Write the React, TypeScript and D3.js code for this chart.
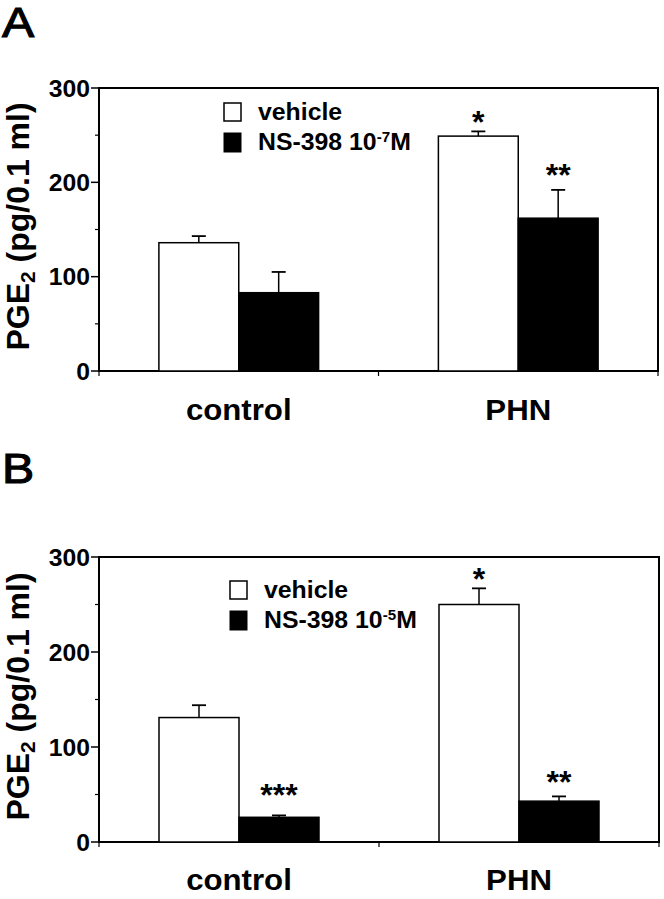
import React from "react";
import * as d3 from "d3";

// ---- data ----
const categories = ["control", "PHN"];
const seriesKeys = ["vehicle", "ns"];
const yTicks = [0, 100, 200, 300];
const yMinorTicks = [50, 150, 250];

// Panel A (NS-398 10^-7 M)
const vehicleA = [136, 249];
const vehicleErrA = [7, 5];
const nsA = [83, 162];
const nsErrA = [22, 30];
const vehicleStarsA = ["", "*"];
const nsStarsA = ["", "**"];
const vehicleStarLevelA = [0, 272];
const nsStarLevelA = [0, 216];

// Panel B (NS-398 10^-5 M)
const vehicleB = [131, 250];
const vehicleErrB = [13, 17];
const nsB = [26, 43];
const nsErrB = [2, 5];
const vehicleStarsB = ["", "*"];
const nsStarsB = ["***", "**"];
const vehicleStarLevelB = [0, 285];
const nsStarLevelB = [58, 72];

const FONT = "'Liberation Sans', Arial, Helvetica, sans-serif";

function SText({ x, y, sx = 1, anchor = "start", size, weight = "bold", stroke, children }: any) {
  return (
    <text
      transform={`translate(${x},${y}) scale(${sx},1)`}
      textAnchor={anchor}
      fontFamily={FONT}
      fontSize={size}
      fontWeight={weight}
      fill="#000"
      stroke={stroke ? "#000" : undefined}
      strokeWidth={stroke || undefined}
    >
      {children}
    </text>
  );
}

function Panel({ letter, letterY, top, bottom, left, right, vehicle, vehicleErr, ns, nsErr, vStars, nStars, vLevels, nLevels, exp, legX, legTextX, legY, xLabelY }: any) {
  const x = d3.scaleBand<string>().domain(categories).range([left, right]).paddingInner(0).paddingOuter(0);
  const inner = d3.scaleBand<string>().domain(seriesKeys).range([0, x.bandwidth()]).paddingInner(0).paddingOuter(0.75);
  const y = d3.scaleLinear().domain([0, 300]).range([bottom, top]);
  const series = [
    { key: "vehicle", vals: vehicle, errs: vehicleErr, fill: "#fff", stars: vStars, levels: vLevels },
    { key: "ns", vals: ns, errs: nsErr, fill: "#000", stars: nStars, levels: nLevels },
  ];
  const bw = inner.bandwidth();
  const cap = 7;
  return (
    <g>
      <SText x={2} y={letterY} sx={1.15} size={42} weight="normal" stroke={1.1}>{letter}</SText>
      {/* frame */}
      <rect x={left} y={top} width={right - left} height={bottom - top} fill="none" stroke="#000" strokeWidth={2} />
      {/* y ticks */}
      {yTicks.map((t) => (
        <g key={"t" + t}>
          <line x1={left - 8} x2={left} y1={y(t)} y2={y(t)} stroke="#000" strokeWidth={1.5} />
          <SText x={90} y={y(t) + 8.5} sx={1.03} anchor="end" size={24}>{t}</SText>
        </g>
      ))}
      {yMinorTicks.map((t) => (
        <line key={"m" + t} x1={left - 4} x2={left} y1={y(t)} y2={y(t)} stroke="#000" strokeWidth={1.2} />
      ))}
      {/* x ticks at band edges */}
      {[...categories.map((c) => x(c) as number), right].map((v, i) => (
        <line key={"xt" + i} x1={v} x2={v} y1={bottom} y2={bottom + 5} stroke="#000" strokeWidth={1.2} />
      ))}
      {categories.map((c) => (
        <SText key={"xl" + c} x={(x(c) as number) + x.bandwidth() / 2} y={xLabelY} sx={1.04} anchor="middle" size={30}>{c}</SText>
      ))}
      {/* y label */}
      <text
        transform={`translate(29,${(top + bottom) / 2 - 3}) rotate(-90)`}
        textAnchor="middle"
        fontFamily={FONT}
        fontSize={32}
        fontWeight="bold"
      >
        PGE<tspan fontSize={21} dy={6}>2</tspan><tspan dy={-6}> (pg/0.1 ml)</tspan>
      </text>
      {/* bars */}
      {series.map((s) =>
        categories.map((c, i) => {
          const bx = (x(c) as number) + (inner(s.key) as number);
          const cx = bx + bw / 2;
          const yt = y(s.vals[i]);
          const ye = y(s.vals[i] + s.errs[i]);
          return (
            <g key={s.key + c}>
              <line x1={cx} x2={cx} y1={yt} y2={ye} stroke="#000" strokeWidth={1.5} />
              <line x1={cx - cap} x2={cx + cap} y1={ye} y2={ye} stroke="#000" strokeWidth={1.8} />
              <rect x={bx} y={yt} width={bw} height={bottom - yt} fill={s.fill} stroke="#000" strokeWidth={1.5} />
              {s.stars[i] ? (
                <SText x={cx} y={y(s.levels[i]) + 19} anchor="middle" size={32}>{s.stars[i]}</SText>
              ) : null}
            </g>
          );
        })
      )}
      {/* legend */}
      <rect x={legX} y={legY - 17} width={17} height={18} fill="#fff" stroke="#000" strokeWidth={1.5} />
      <rect x={legX} y={legY + 13} width={17} height={19} fill="#000" stroke="#000" strokeWidth={1} />
      <SText x={legTextX} y={legY} sx={1.08} size={23}>vehicle</SText>
      <SText x={legTextX} y={legY + 30} sx={1.08} size={23}>
        NS-398 10<tspan fontSize={14} dy={-8}>{exp}</tspan><tspan dy={8}>M</tspan>
      </SText>
    </g>
  );
}

export default function App() {
  return (
    <svg width={664} height={899} viewBox="0 0 664 899" style={{ position: "absolute", left: 0, top: 0, background: "#fff" }}>
      <rect x={0} y={0} width={664} height={899} fill="#fff" />
      <Panel
        letter="A" letterY={37} top={88} bottom={371} left={99} right={658}
        vehicle={vehicleA} vehicleErr={vehicleErrA} ns={nsA} nsErr={nsErrA}
        vStars={vehicleStarsA} nStars={nsStarsA} vLevels={vehicleStarLevelA} nLevels={nsStarLevelA}
        exp="-7" legX={224} legTextX={258} legY={120} xLabelY={420}
      />
      <Panel
        letter="B" letterY={483} top={557} bottom={842} left={99} right={659}
        vehicle={vehicleB} vehicleErr={vehicleErrB} ns={nsB} nsErr={nsErrB}
        vStars={vehicleStarsB} nStars={nsStarsB} vLevels={vehicleStarLevelB} nLevels={nsStarLevelB}
        exp="-5" legX={230} legTextX={264} legY={598} xLabelY={890}
      />
    </svg>
  );
}
